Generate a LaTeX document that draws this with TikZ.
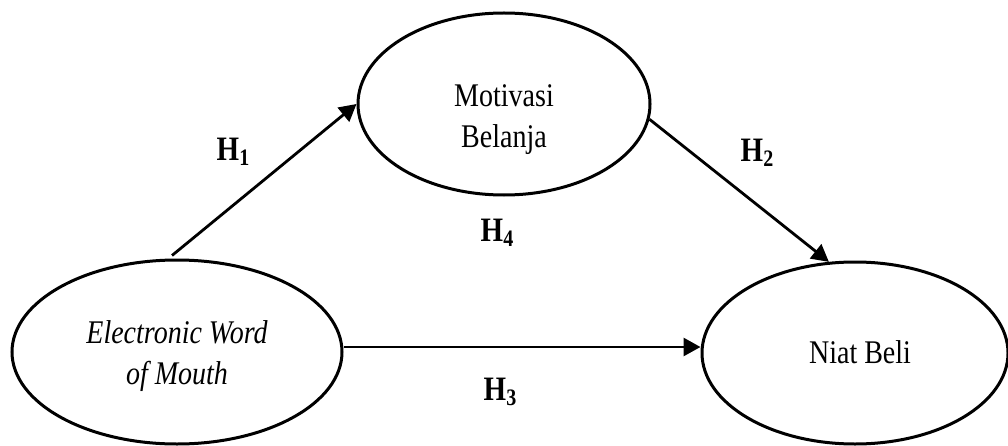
\documentclass[tikz,border=0pt]{standalone}
\usepackage{fontspec}
\setmainfont{Liberation Serif}
\usepackage{graphicx}
\usetikzlibrary{shapes.geometric,arrows.meta}
\newcommand{\tallbox}[1]{\scalebox{1}[1.18]{#1}}
\newcommand{\hyp}[1]{\tallbox{\textbf{H}\raisebox{-4pt}{\fontsize{20}{20}\selectfont\textbf{#1}}}}
\begin{document}
\begin{tikzpicture}[x=1pt,y=1pt,
  oval/.style={draw=black,line width=3pt,ellipse,inner sep=0pt},
  txt/.style={inner sep=0pt,font=\fontsize{28}{35}\selectfont},
  hlab/.style={inner sep=0pt,font=\fontsize{29}{34}\selectfont},
  conn/.style={line width=2.8pt,-{Triangle[length=17pt,width=18pt]}}]
\useasboundingbox (0,0) rectangle (1008,445);
\node[oval,minimum width=292pt,minimum height=182pt] (mot) at (504,341) {};
\node[oval,minimum width=330pt,minimum height=184pt] (ewom) at (177,93) {};
\node[oval,minimum width=306pt,minimum height=182pt] (niat) at (855,92) {};
\node[txt] (motT) at (504,326) {\tallbox{\begin{tabular}{@{}c@{}}Motivasi\\Belanja\end{tabular}}};
\node[txt] (ewomT) at (177,89) {\tallbox{\begin{tabular}{@{}c@{}}\itshape Electronic Word\\\itshape of Mouth\end{tabular}}};
\node[txt] (niatT) at (860,93) {\tallbox{Niat Beli}};
\draw[conn] ([xshift=-5pt,yshift=3pt]ewom.north) -- (mot.west);
\draw[conn] (mot.-6) -- (niat.106);
\draw[conn] ([yshift=5pt]ewom.east) -- ([yshift=6pt]niat.west);
\node[hlab] (h1) at (233,293) {\hyp{1}};
\node[hlab] (h2) at (757,292) {\hyp{2}};
\node[hlab] (h4) at (497,212) {\hyp{4}};
\node[hlab] (h3) at (500,53) {\hyp{3}};
\end{tikzpicture}
\end{document}
